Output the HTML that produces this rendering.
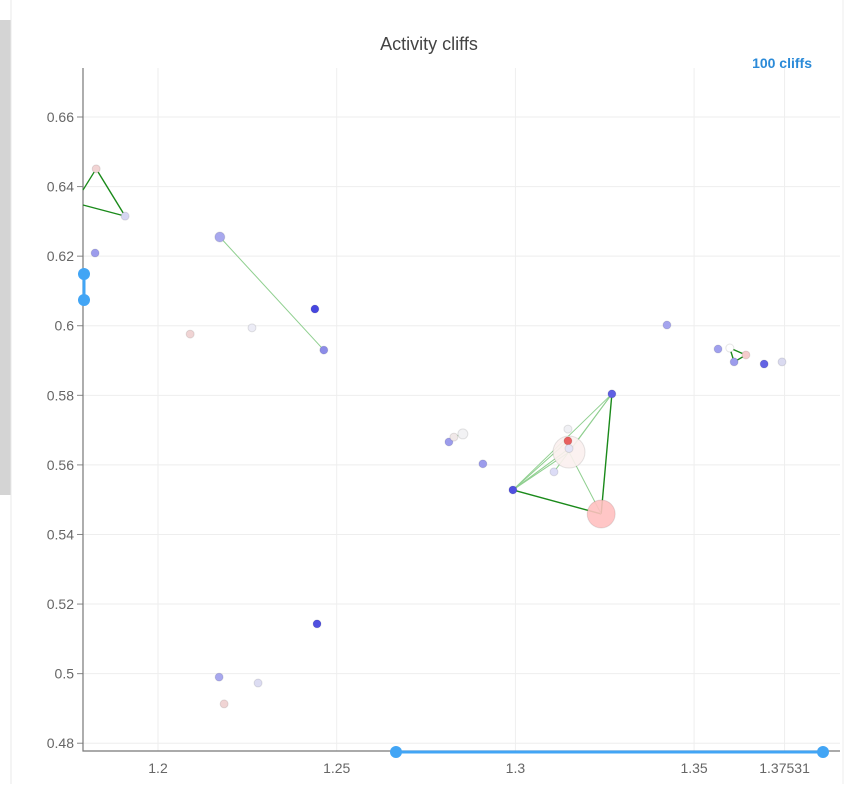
<!DOCTYPE html>
<html><head><meta charset="utf-8"><style>
body{margin:0;background:#fff;width:848px;height:784px;overflow:hidden;font-family:"Liberation Sans",sans-serif}
</style></head><body>
<svg width="848" height="784">
<rect x="0" y="20" width="11" height="475" fill="#d4d4d4"/>
<line x1="11" y1="0" x2="11" y2="784" stroke="#e8e8e8"/>
<line x1="843" y1="0" x2="843" y2="784" stroke="#eee"/>
<text x="429" y="50" text-anchor="middle" font-size="18" fill="#444">Activity cliffs</text>
<text x="812" y="68" text-anchor="end" font-size="14" font-weight="bold" fill="#2a8ad8">100 cliffs</text>
<g id="grid"></g><g id="axes"></g><g id="lines"></g><g id="big"></g><g id="pts"></g>
<g>
<line x1="84" y1="274" x2="84" y2="300" stroke="#42a5f5" stroke-width="3"/>
<circle cx="84" cy="274" r="6" fill="#42a5f5"/><circle cx="84" cy="300" r="6" fill="#42a5f5"/></g>
<g>
<line x1="396" y1="752" x2="823" y2="752" stroke="#42a5f5" stroke-width="3"/>
<circle cx="396" cy="752" r="6" fill="#42a5f5"/><circle cx="823" cy="752" r="6" fill="#42a5f5"/></g>
</svg>
<script>
const xTicks=[1.2,1.25,1.3,1.35,1.37531];
const yTicks=[0.48,0.5,0.52,0.54,0.56,0.58,0.6,0.62,0.64,0.66];
const px=[1.1827,1.1908,1.1824,1.2173,1.2464,1.2439,1.2090,1.2263,1.2814,1.2828,1.2853,1.2909,1.2993,1.3270,1.3147,1.3147,1.3150,1.3108,1.3150,1.3240,1.3424,1.3567,1.3600,1.3612,1.3645,1.3696,1.3746,1.2445,1.2171,1.2280,1.2185];
const py=[0.6451,0.6315,0.6209,0.6255,0.5930,0.6048,0.5976,0.5994,0.5666,0.5680,0.5689,0.5603,0.5528,0.5804,0.5669,0.5703,0.5647,0.5580,0.5637,0.5459,0.6002,0.5933,0.5936,0.5896,0.5916,0.5890,0.5896,0.5143,0.4990,0.4973,0.4913];
const pc=["#f2d4d4","#d6d6f2","#9c9cec","#a8a8ee","#8c8ce8","#4646e0","#f0d4d4","#ececf6","#9c9cec","#f0e8e8","#f2f2f4","#9c9cec","#5050e0","#6060e4","#e86060","#f0f0f4","#e4e4f6","#dcdcf6","#fbefee","#ffc0c0","#a4a4ee","#a0a0ee","#ffffff","#9c9cec","#f4cccc","#6464e4","#dadaf0","#5050e0","#a8a8ee","#dcdcf2","#f0d4d4"];
const pr=[4,4,4,5,4,4,4,4,4,4,5,4,4,4,4,4,4,4,16,14,4,4,4,4,4,4,4,4,4,4,4];
const links=[[0,1,1],[3,4,0],[12,19,1],[13,12,0],[13,18,0],[13,17,0],[13,19,1],[12,14,0],[12,18,0],[12,16,0],[19,18,0],[22,24,1],[24,23,1],[22,23,1],[9,10,0]];
const X0=1.2,XS=3574,XO=158,Y0=0.66,YS=3479,YO=117;
const sx=v=>XO+(v-X0)*XS, sy=v=>YO+(Y0-v)*YS;
const NS="http://www.w3.org/2000/svg";
function mk(t,a,p){const e=document.createElementNS(NS,t);for(const k in a)e.setAttribute(k,a[k]);document.getElementById(p).appendChild(e);return e;}
xTicks.forEach(t=>{const g=mk('line',{x1:sx(t),x2:sx(t),y1:68,y2:751,stroke:'#eee'},'grid');


const l=mk('text',{x:sx(t),y:773,'text-anchor':'middle','font-size':14,fill:'#666'},'axes');l.textContent=t;

});
yTicks.forEach(t=>{const g=mk('line',{x1:83,x2:840,y1:sy(t),y2:sy(t),stroke:'#eee'},'grid');


mk('line',{x1:77,x2:83,y1:sy(t),y2:sy(t),stroke:'#888'},'axes');
const l=mk('text',{x:74,y:sy(t)+5,'text-anchor':'end','font-size':14,fill:'#666'},'axes');l.textContent=t;

});
const ax=mk('path',{d:'M83 68V751H840',fill:'none',stroke:'#777','stroke-width':1.2},'axes');


[[83,190,0],[83,205,1]].forEach(e=>{const l=mk('line',{x1:e[0],y1:e[1],x2:sx(px[e[2]]),y2:sy(py[e[2]]),stroke:'#1a8a1a','stroke-width':1.3},'lines');

});
links.forEach(k=>{const l=mk('line',{x1:sx(px[k[0]]),y1:sy(py[k[0]]),x2:sx(px[k[1]]),y2:sy(py[k[1]]),stroke:k[2]?'#1a8a1a':'#8fcf8f','stroke-width':k[2]?1.4:1},'lines');

});
px.forEach((v,i)=>{const big=pr[i]>8;const c=mk('circle',{cx:sx(v),cy:sy(py[i]),r:pr[i],fill:pc[i],'fill-opacity':big?0.9:1,stroke:'rgba(0,0,0,0.1)','stroke-width':1},big?'big':'pts');

});
</script>
</body></html>
